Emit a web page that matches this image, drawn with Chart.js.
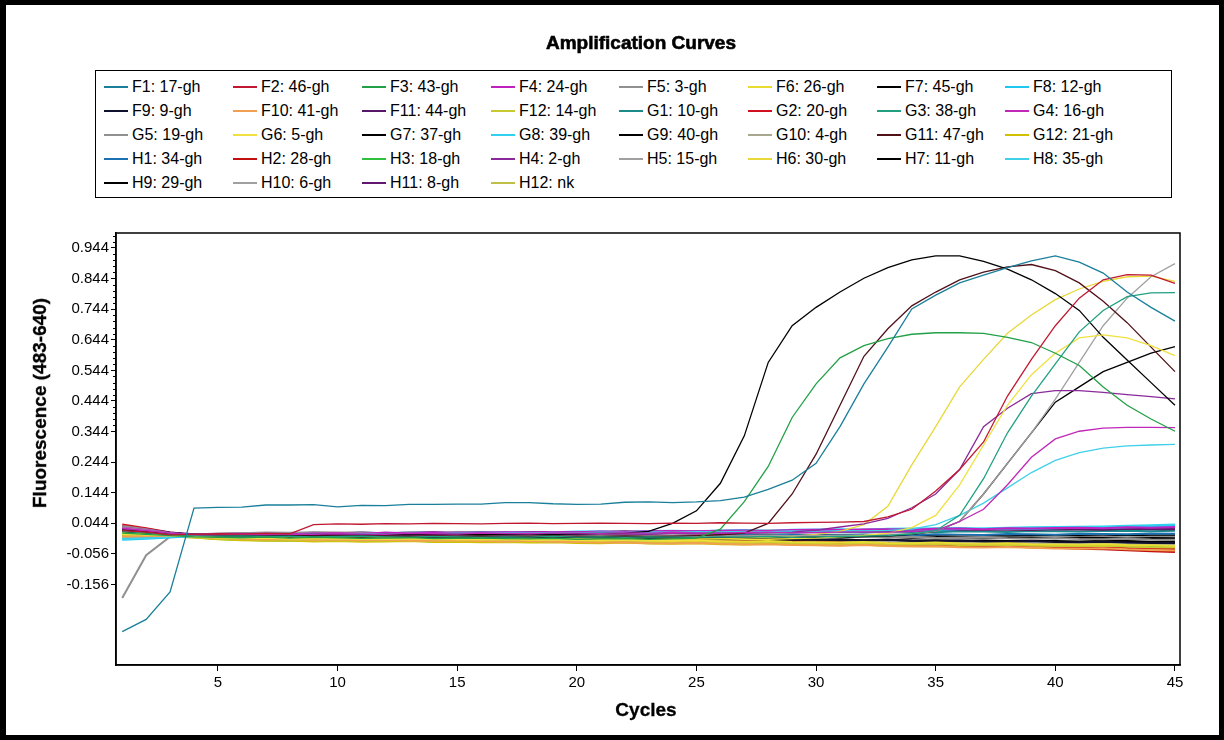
<!DOCTYPE html>
<html><head><meta charset="utf-8">
<script src="https://cdn.jsdelivr.net/npm/chart.js@4.4.0/dist/chart.umd.min.js"></script>
<style>
html,body{margin:0;padding:0;background:#fff;}
#frame{position:absolute;left:0;top:0;width:1224px;height:740px;box-sizing:border-box;border:5px solid #000;border-left-width:6px;pointer-events:none;z-index:5;}
#title{position:absolute;top:32px;left:0;width:1282px;text-align:center;font:bold 19px "Liberation Sans",Arial,sans-serif;color:#000;-webkit-text-stroke:0.6px #000;}
#legend{position:absolute;left:95px;top:70px;width:1077px;height:128px;box-sizing:border-box;border:1px solid #000;background:#fff;}
.li{position:absolute;height:20px;line-height:20px;font:16px "Liberation Sans",Arial,sans-serif;color:#000;white-space:nowrap;}
.sw{display:inline-block;width:24px;height:2px;vertical-align:middle;margin-right:4px;margin-top:-2px;}
#ytitle{position:absolute;left:40px;top:403px;transform:translate(-50%,-50%) rotate(-90deg);font:bold 19px "Liberation Sans",Arial,sans-serif;white-space:nowrap;-webkit-text-stroke:0.3px #000;}
#xtitle{position:absolute;left:646px;top:710px;transform:translate(-50%,-50%);font:bold 19px "Liberation Sans",Arial,sans-serif;-webkit-text-stroke:0.3px #000;}
#c{position:absolute;left:0;top:0;}
</style></head>
<body>
<canvas id="c" width="1224" height="740"></canvas>
<div id="title">Amplification Curves</div>
<div id="legend"></div>
<div id="ytitle">Fluorescence (483-640)</div>
<div id="xtitle">Cycles</div>
<div id="frame"></div>
<script>
// ---- data ----
const cycles = [1,2,3,4,5,6,7,8,9,10,11,12,13,14,15,16,17,18,19,20,21,22,23,24,25,26,27,28,29,30,31,32,33,34,35,36,37,38,39,40,41,42,43,44,45];
const xTicks = [5,10,15,20,25,30,35,40,45];
const yTicks = [0.944,0.844,0.744,0.644,0.544,0.444,0.344,0.244,0.144,0.044,-0.056,-0.156];

const names = ["F1","F2","F3","F4","F5","F6","F7","F8","F9","F10","F11","F12",
               "G1","G2","G3","G4","G5","G6","G7","G8","G9","G10","G11","G12",
               "H1","H2","H3","H4","H5","H6","H7","H8","H9","H10","H11","H12"];
const samples = ["17-gh","46-gh","43-gh","24-gh","3-gh","26-gh","45-gh","12-gh","9-gh","41-gh","44-gh","14-gh",
                 "10-gh","20-gh","38-gh","16-gh","19-gh","5-gh","37-gh","39-gh","40-gh","4-gh","47-gh","21-gh",
                 "34-gh","28-gh","18-gh","2-gh","15-gh","30-gh","11-gh","35-gh","29-gh","6-gh","8-gh","nk"];
const colors = ["#1a7f9a","#c01830","#22a046","#c020c0","#909090","#e8dc30","#000000","#20c8f0","#101030","#f0a050","#581868","#c8c830",
                "#1a8a8a","#d01020","#20a080","#c028b8","#909090","#f0e040","#000000","#30d0f0","#000000","#a8a890","#501018","#d0c000",
                "#1a70b0","#c01010","#30c040","#8a2a9a","#a0a0a0","#e8d838","#000000","#40d0e8","#000000","#a0a0a0","#601870","#c0c048"];

const F1 = [-0.310,-0.270,-0.180,0.094,0.096, 0.097,0.104,0.104,0.105,0.098, 0.103,0.102,0.106,0.106,0.107, 0.107,0.112,0.112,0.108,0.106, 0.107,0.113,0.114,0.112,0.114, 0.118,0.130,0.155,0.185,0.240, 0.360,0.500,0.620,0.745,0.790, 0.830,0.855,0.880,0.902,0.918, 0.898,0.862,0.800,0.750,0.705];
const F2 = [0.020,0.015,0.006,0.008,0.010, 0.009,0.011,0.010,0.040,0.042, 0.041,0.043,0.042,0.044,0.043, 0.042,0.044,0.045,0.043,0.044, 0.045,0.044,0.043,0.045,0.044, 0.046,0.045,0.044,0.046,0.047, 0.048,0.050,0.065,0.090,0.150, 0.220,0.310,0.460,0.580,0.690, 0.780,0.840,0.857,0.855,0.828];
const F3 = [0.012,0.008,0.004,0.000,-0.002, -0.003,-0.001,-0.004,-0.002,-0.003, -0.005,-0.004,-0.003,-0.006,-0.005, -0.004,-0.006,-0.007,-0.005,-0.008, -0.007,-0.006,-0.008,-0.007,-0.004, 0.025,0.115,0.230,0.390,0.500, 0.585,0.625,0.648,0.662,0.667, 0.667,0.665,0.652,0.635,0.600, 0.560,0.490,0.430,0.385,0.345];
const F4 = [0.030,0.022,0.012,0.006,0.008, 0.009,0.010,0.008,0.011,0.012, 0.010,0.013,0.012,0.014,0.012, 0.013,0.015,0.014,0.016,0.015, 0.017,0.016,0.018,0.019,0.018, 0.020,0.021,0.019,0.022,0.023, 0.022,0.024,0.025,0.023,0.026, 0.027,0.025,0.028,0.027,0.029, 0.030,0.028,0.031,0.030,0.032];
const F5 = [0.035,0.025,0.012,0.006,0.010, 0.012,0.014,0.013,0.015,0.014, 0.013,0.012,0.014,0.011,0.010, 0.012,0.009,0.008,0.010,0.007, 0.006,0.008,0.005,0.004,0.006, 0.003,0.002,0.004,0.001,0.000, 0.002,-0.001,-0.002,0.000,-0.003, -0.004,-0.002,-0.005,-0.006,-0.004, -0.007,-0.008,-0.006,-0.009,-0.010];
const F6 = [0.012,0.008,0.004,0.002,-0.002, -0.004,-0.003,-0.006,-0.005,-0.004, -0.007,-0.006,-0.005,-0.008,-0.007, -0.009,-0.008,-0.010,-0.009,-0.011, -0.012,-0.010,-0.013,-0.014,-0.012, -0.015,-0.016,-0.014,-0.017,-0.018, -0.019,-0.017,-0.020,-0.021,-0.019, -0.022,-0.023,-0.021,-0.024,-0.025, -0.026,-0.024,-0.027,-0.028,-0.030];
const F7 = [0.020,0.014,0.008,0.004,0.005, 0.006,0.004,0.007,0.005,0.006, 0.004,0.005,0.003,0.006,0.004, 0.005,0.003,0.004,0.002,0.004, 0.003,0.001,0.003,0.002,0.000, 0.002,0.001,-0.001,0.001,0.000, -0.002,0.000,-0.001,-0.003,-0.001, -0.002,-0.004,-0.002,-0.003,-0.005, -0.003,-0.004,-0.006,-0.004,-0.005];
const F8 = [-0.010,-0.006,-0.002,0.002,0.004, 0.005,0.006,0.004,0.007,0.006, 0.008,0.007,0.009,0.010,0.008, 0.011,0.012,0.010,0.013,0.012, 0.014,0.015,0.013,0.016,0.017, 0.018,0.016,0.019,0.020,0.021, 0.020,0.022,0.023,0.024,0.022, 0.025,0.026,0.027,0.026,0.028, 0.030,0.029,0.031,0.033,0.035];
const F9 = [0.025,0.018,0.009,0.003,0.002, 0.001,0.003,0.000,0.002,0.001, -0.001,0.000,-0.002,0.001,-0.001, 0.000,-0.003,-0.002,-0.004,-0.003, -0.005,-0.004,-0.006,-0.005,-0.007, -0.008,-0.006,-0.009,-0.010,-0.008, -0.011,-0.012,-0.010,-0.013,-0.014, -0.012,-0.015,-0.016,-0.014,-0.017, -0.018,-0.016,-0.019,-0.020,-0.020];
const F10 = [0.000,0.002,0.003,0.001,-0.004, -0.006,-0.008,-0.007,-0.010,-0.009, -0.011,-0.010,-0.012,-0.013,-0.011, -0.014,-0.015,-0.013,-0.016,-0.017, -0.019,-0.018,-0.021,-0.022,-0.020, -0.023,-0.025,-0.024,-0.027,-0.028, -0.029,-0.027,-0.030,-0.032,-0.031, -0.034,-0.035,-0.033,-0.036,-0.038, -0.039,-0.037,-0.041,-0.043,-0.045];
const F11 = [0.030,0.024,0.014,0.008,0.010, 0.011,0.012,0.010,0.013,0.012, 0.014,0.012,0.013,0.015,0.013, 0.014,0.012,0.015,0.016,0.014, 0.016,0.017,0.015,0.018,0.017, 0.019,0.018,0.020,0.019,0.021, 0.020,0.022,0.021,0.020,0.023, 0.022,0.024,0.023,0.022,0.025, 0.024,0.023,0.026,0.025,0.025];
const F12 = [0.005,0.004,0.002,-0.002,-0.006, -0.008,-0.010,-0.009,-0.012,-0.011, -0.013,-0.012,-0.011,-0.014,-0.013, -0.012,-0.015,-0.014,-0.016,-0.015, -0.017,-0.016,-0.018,-0.019,-0.017, -0.020,-0.021,-0.019,-0.022,-0.023, -0.024,-0.022,-0.025,-0.026,-0.024, -0.027,-0.028,-0.026,-0.029,-0.030, -0.031,-0.029,-0.032,-0.034,-0.035];
const G1 = [0.015,0.012,0.008,0.005,0.007, 0.008,0.009,0.007,0.010,0.008, 0.009,0.011,0.010,0.008,0.011, 0.010,0.012,0.011,0.009,0.012, 0.011,0.013,0.012,0.014,0.013, 0.012,0.015,0.014,0.013,0.016, 0.015,0.014,0.017,0.016,0.015, 0.018,0.017,0.016,0.019,0.018, 0.017,0.019,0.020,0.018,0.020];
const G2 = [0.040,0.028,0.014,0.005,0.002, 0.001,0.002,0.000,0.001,-0.001, 0.000,-0.002,-0.001,-0.003,-0.002, -0.004,-0.003,-0.005,-0.006,-0.004, -0.008,-0.010,-0.009,-0.012,-0.014, -0.013,-0.016,-0.018,-0.017,-0.020, -0.022,-0.021,-0.024,-0.026,-0.025, -0.028,-0.030,-0.029,-0.032,-0.033, -0.035,-0.034,-0.037,-0.038,-0.040];
const G3 = [0.018,0.013,0.007,0.003,0.002, 0.003,0.001,0.002,0.000,0.001, 0.002,0.000,-0.001,0.001,0.000, -0.002,0.000,-0.001,0.001,-0.001, 0.000,-0.002,0.000,-0.001,-0.002, 0.000,-0.001,0.001,-0.002,0.000, 0.001,0.002,0.004,0.010,0.020, 0.070,0.190,0.340,0.460,0.565, 0.670,0.740,0.785,0.797,0.798];
const G4 = [0.028,0.020,0.011,0.005,0.006, 0.008,0.007,0.009,0.008,0.010, 0.009,0.008,0.011,0.010,0.009, 0.012,0.011,0.010,0.013,0.012, 0.011,0.013,0.012,0.014,0.013, 0.012,0.014,0.015,0.013,0.014, 0.015,0.016,0.015,0.017,0.020, 0.050,0.090,0.170,0.260,0.320, 0.345,0.355,0.358,0.358,0.357];
const G5 = [-0.200,-0.060,0.000,0.004,0.003, 0.002,0.004,0.003,0.001,0.003, 0.002,0.000,0.002,0.001,0.003, 0.002,0.000,0.001,0.003,0.002, 0.001,-0.001,0.001,0.000,0.002, 0.001,-0.001,0.000,0.002,0.001, -0.001,0.000,0.001,-0.002,0.000, 0.001,-0.001,0.000,-0.002,0.000, -0.001,0.001,-0.002,0.000,0.000];
const G6 = [0.008,0.006,0.004,0.001,-0.003, -0.005,-0.004,-0.006,-0.005,-0.007, -0.006,-0.008,-0.007,-0.006,-0.009, -0.008,-0.007,-0.010,-0.009,-0.011, -0.010,-0.009,-0.011,-0.012,-0.010, -0.011,-0.009,-0.008,-0.006,-0.004, 0.000,0.005,0.012,0.030,0.070, 0.170,0.300,0.430,0.530,0.600, 0.650,0.660,0.650,0.625,0.592];
const G7 = [0.018,0.013,0.007,0.004,0.006, 0.005,0.007,0.006,0.008,0.007, 0.006,0.008,0.007,0.009,0.008, 0.007,0.009,0.010,0.008,0.010, 0.011,0.012,0.018,0.044,0.085, 0.175,0.330,0.570,0.690,0.750, 0.800,0.845,0.880,0.905,0.918, 0.918,0.900,0.875,0.840,0.795, 0.740,0.652,0.578,0.504,0.430];
const G8 = [-0.005,-0.003,0.000,0.004,0.006, 0.008,0.010,0.009,0.012,0.011, 0.013,0.012,0.014,0.013,0.012, 0.015,0.014,0.016,0.015,0.017, 0.018,0.016,0.019,0.020,0.018, 0.021,0.022,0.020,0.023,0.024, 0.025,0.023,0.026,0.027,0.028, 0.029,0.027,0.030,0.031,0.032, 0.033,0.034,0.036,0.038,0.040];
const G9 = [0.020,0.015,0.008,0.003,0.001, 0.000,-0.001,0.001,-0.002,-0.001, -0.002,0.000,-0.003,-0.002,-0.001, -0.003,-0.002,-0.004,-0.003,-0.005, -0.004,-0.006,-0.005,-0.007,-0.006, -0.008,-0.007,-0.009,-0.008,-0.010, -0.009,-0.011,-0.010,-0.012,-0.011, -0.013,-0.012,-0.014,-0.013,-0.014, -0.015,-0.013,-0.014,-0.016,-0.015];
const G10 = [0.010,0.008,0.005,0.002,-0.002, -0.004,-0.006,-0.005,-0.008,-0.007, -0.009,-0.008,-0.007,-0.010,-0.009, -0.011,-0.010,-0.012,-0.011,-0.013, -0.012,-0.014,-0.013,-0.015,-0.016, -0.014,-0.017,-0.018,-0.016,-0.019, -0.020,-0.018,-0.021,-0.022,-0.020, -0.023,-0.022,-0.021,-0.024,-0.023, -0.025,-0.024,-0.026,-0.025,-0.025];
const G11 = [0.022,0.016,0.009,0.004,0.003, 0.004,0.002,0.005,0.003,0.004, 0.002,0.003,0.001,0.004,0.002, 0.003,0.001,0.002,0.000,0.002, 0.001,0.003,0.001,0.002,0.004, 0.006,0.012,0.044,0.140,0.270, 0.430,0.590,0.680,0.755,0.800, 0.840,0.865,0.882,0.890,0.870, 0.830,0.770,0.700,0.620,0.540];
const G12 = [0.000,0.001,0.002,-0.002,-0.008, -0.011,-0.013,-0.012,-0.015,-0.014, -0.016,-0.015,-0.014,-0.017,-0.016, -0.018,-0.017,-0.019,-0.018,-0.020, -0.021,-0.019,-0.022,-0.023,-0.021, -0.024,-0.025,-0.023,-0.026,-0.027, -0.028,-0.026,-0.029,-0.030,-0.031, -0.032,-0.030,-0.033,-0.034,-0.035, -0.036,-0.034,-0.037,-0.038,-0.040];
const H1 = [0.020,0.015,0.009,0.004,0.003, 0.002,0.001,0.003,0.001,0.000, 0.002,0.001,-0.001,0.001,0.000, 0.002,0.000,0.001,-0.001,0.001, 0.002,0.000,0.003,0.002,0.004, 0.003,0.005,0.004,0.006,0.005, 0.004,0.007,0.006,0.005,0.008, 0.007,0.006,0.009,0.008,0.007, 0.010,0.009,0.008,0.011,0.010];
const H2 = [0.035,0.026,0.013,0.006,0.006, 0.007,0.005,0.008,0.006,0.005, 0.007,0.004,0.006,0.003,0.005, 0.002,0.004,0.001,0.000,0.002, -0.002,-0.004,-0.003,-0.006,-0.008, -0.010,-0.009,-0.012,-0.014,-0.016, -0.018,-0.020,-0.022,-0.024,-0.026, -0.028,-0.030,-0.032,-0.034,-0.036, -0.039,-0.041,-0.044,-0.047,-0.050];
const H3 = [0.005,0.004,0.003,-0.001,-0.007, -0.010,-0.012,-0.011,-0.013,-0.012, -0.014,-0.013,-0.012,-0.015,-0.014, -0.013,-0.016,-0.015,-0.014,-0.017, -0.016,-0.018,-0.017,-0.019,-0.020, -0.018,-0.021,-0.022,-0.020,-0.023, -0.024,-0.022,-0.025,-0.026,-0.024, -0.027,-0.026,-0.028,-0.027,-0.029, -0.028,-0.030,-0.029,-0.031,-0.030];
const H4 = [0.025,0.019,0.011,0.006,0.005, 0.006,0.004,0.007,0.005,0.006, 0.008,0.006,0.007,0.005,0.008, 0.007,0.006,0.009,0.008,0.007, 0.010,0.009,0.008,0.011,0.010, 0.012,0.011,0.013,0.015,0.022, 0.032,0.042,0.060,0.095,0.140, 0.220,0.360,0.420,0.468,0.478, 0.478,0.472,0.465,0.458,0.451];
const H5 = [0.030,0.022,0.012,0.005,0.004, 0.005,0.003,0.006,0.004,0.005, 0.003,0.004,0.002,0.005,0.003, 0.004,0.002,0.003,0.001,0.003, 0.002,0.004,0.002,0.003,0.001, 0.003,0.002,0.004,0.003,0.005, 0.004,0.006,0.008,0.010,0.018, 0.050,0.140,0.240,0.340,0.450, 0.570,0.690,0.780,0.850,0.893];
const H6 = [0.010,0.007,0.004,0.001,-0.002, -0.004,-0.003,-0.005,-0.004,-0.006, -0.005,-0.004,-0.007,-0.006,-0.005, -0.007,-0.006,-0.008,-0.007,-0.006, -0.008,-0.007,-0.009,-0.008,-0.007, -0.006,-0.004,-0.002,0.002,0.008, 0.018,0.040,0.100,0.235,0.360, 0.490,0.580,0.665,0.725,0.775, 0.810,0.835,0.850,0.852,0.835];
const H7 = [0.015,0.011,0.007,0.004,0.004, 0.003,0.005,0.004,0.002,0.004, 0.003,0.005,0.002,0.004,0.003, 0.002,0.004,0.003,0.005,0.003, 0.004,0.002,0.005,0.003,0.004, 0.006,0.004,0.005,0.003,0.006, 0.004,0.005,0.007,0.004,0.006, 0.005,0.003,0.006,0.004,0.005, 0.007,0.004,0.006,0.005,0.005];
const H8 = [-0.008,-0.005,-0.001,0.003,0.005, 0.006,0.008,0.007,0.009,0.008, 0.010,0.009,0.011,0.010,0.012, 0.011,0.013,0.012,0.014,0.013, 0.015,0.014,0.016,0.015,0.017, 0.016,0.018,0.017,0.019,0.018, 0.020,0.019,0.021,0.025,0.040, 0.070,0.110,0.160,0.210,0.250, 0.275,0.290,0.297,0.300,0.302];
const H9 = [0.022,0.016,0.008,0.003,0.002, 0.001,0.003,0.000,0.002,0.001, 0.000,0.002,-0.001,0.001,0.000, -0.001,0.001,-0.002,0.000,-0.001, -0.002,0.000,-0.002,-0.001,-0.003, -0.002,-0.001,-0.003,-0.002,0.000, -0.001,0.001,0.003,0.008,0.018, 0.050,0.140,0.240,0.340,0.440, 0.490,0.540,0.570,0.600,0.622];
const H10 = [0.025,0.019,0.010,0.004,0.001, 0.000,0.002,-0.001,0.001,0.000, -0.002,0.000,-0.001,-0.003,-0.001, -0.002,-0.004,-0.003,-0.005,-0.004, -0.006,-0.005,-0.007,-0.008,-0.006, -0.009,-0.010,-0.008,-0.011,-0.012, -0.013,-0.011,-0.014,-0.015,-0.013, -0.016,-0.017,-0.015,-0.018,-0.017, -0.019,-0.018,-0.020,-0.019,-0.020];
const H11 = [0.030,0.023,0.013,0.007,0.009, 0.010,0.008,0.011,0.010,0.012, 0.011,0.013,0.012,0.011,0.014, 0.013,0.015,0.014,0.013,0.016, 0.015,0.017,0.016,0.018,0.017, 0.019,0.020,0.018,0.021,0.022, 0.020,0.023,0.024,0.022,0.025, 0.026,0.024,0.027,0.026,0.028, 0.027,0.029,0.028,0.030,0.030];
const H12 = [-0.005,-0.003,0.000,0.001,-0.003, -0.005,-0.007,-0.006,-0.008,-0.007, -0.009,-0.008,-0.010,-0.009,-0.008, -0.011,-0.010,-0.012,-0.011,-0.010, -0.012,-0.013,-0.011,-0.014,-0.013, -0.012,-0.015,-0.014,-0.016,-0.015, -0.014,-0.017,-0.016,-0.018,-0.017, -0.016,-0.019,-0.018,-0.017,-0.020, -0.019,-0.018,-0.021,-0.020,-0.020];

const series = [F1,F2,F3,F4,F5,F6,F7,F8,F9,F10,F11,F12,G1,G2,G3,G4,G5,G6,G7,G8,G9,G10,G11,G12,H1,H2,H3,H4,H5,H6,H7,H8,H9,H10,H11,H12];
const amplified = ["F1","F2","F3","G3","G4","G6","G7","G11","H4","H5","H6","H8","H9"];

// ---- legend (HTML) ----
const legCols = [104,233,362,491,619,748,877,1005];
const legRows = [88,112,136,160,184];
const leg = document.getElementById('legend');
names.forEach((n,i)=>{
  const d = document.createElement('div');
  d.className='li';
  d.style.left = (legCols[i%8]-96)+'px';
  d.style.top = (legRows[Math.floor(i/8)]-71-10)+'px';
  d.innerHTML = '<span class="sw" style="background:'+colors[i]+'"></span>'+n+': '+samples[i];
  leg.appendChild(d);
});

// ---- chart ----
const datasets = names.map((n,i)=>{
  const amp = amplified.includes(n);
  return {
    label: n+': '+samples[i],
    data: cycles.map((c,k)=>({x:c, y:series[i][k]})),
    borderColor: colors[i],
    backgroundColor: colors[i],
    borderWidth: amp ? 1.3 : 2,
    pointRadius: 0,
    tension: 0,
    fill: false,
    order: amp ? 0 : 1
  };
});

const frame = {
  id:'frame',
  afterDatasetsDraw(chart){
    const {ctx, chartArea:a, scales:{y}} = chart;
    ctx.save();
    ctx.strokeStyle='#000'; ctx.lineWidth=1.5;
    ctx.strokeRect(a.left, a.top, a.right-a.left, a.bottom-a.top);
    ctx.lineWidth=1;
    ctx.beginPath();
    for(let k=-30;k<=30;k++){
      if(k%5===0) continue;
      const v = yTicks[0] + k*0.02;
      if(v<y.min || v>y.max) continue;
      const p = Math.round(y.getPixelForValue(v))+0.5;
      ctx.moveTo(a.left-3,p); ctx.lineTo(a.left,p);
    }
    ctx.stroke();
    ctx.restore();
  }
};

const font = {family:'"Liberation Sans", Arial, sans-serif', size:15};
new Chart(document.getElementById('c'), {
  type:'line',
  data:{datasets},
  options:{
    responsive:false, animation:false, devicePixelRatio:1,
    layout:{padding:{left:16, top:233, right:44, bottom:0}},
    plugins:{legend:{display:false}, title:{display:false}, tooltip:{enabled:false}},
    scales:{
      x:{type:'linear', min:0.74, max:45.21,
         afterBuildTicks:s=>{s.ticks = xTicks.map(v=>({value:v}));},
         afterFit:s=>{s.height=75;},
         grid:{display:true, drawOnChartArea:false, drawTicks:true, tickLength:6, color:'#000'},
         border:{display:true, color:'#000', width:1.5},
         ticks:{font, color:'#000', padding:3, maxRotation:0, autoSkip:false, callback:v=>String(v)}},
      y:{type:'linear', min:-0.419, max:0.993,
         afterBuildTicks:s=>{s.ticks = yTicks.map(v=>({value:v}));},
         afterFit:s=>{s.width=100;},
         grid:{display:true, drawOnChartArea:false, drawTicks:true, tickLength:5, color:'#000'},
         border:{display:true, color:'#000', width:1.5},
         ticks:{font, color:'#000', padding:2, autoSkip:false, callback:v=>v.toFixed(3)}}
    }
  },
  plugins:[frame]
});
</script>
</body></html>
